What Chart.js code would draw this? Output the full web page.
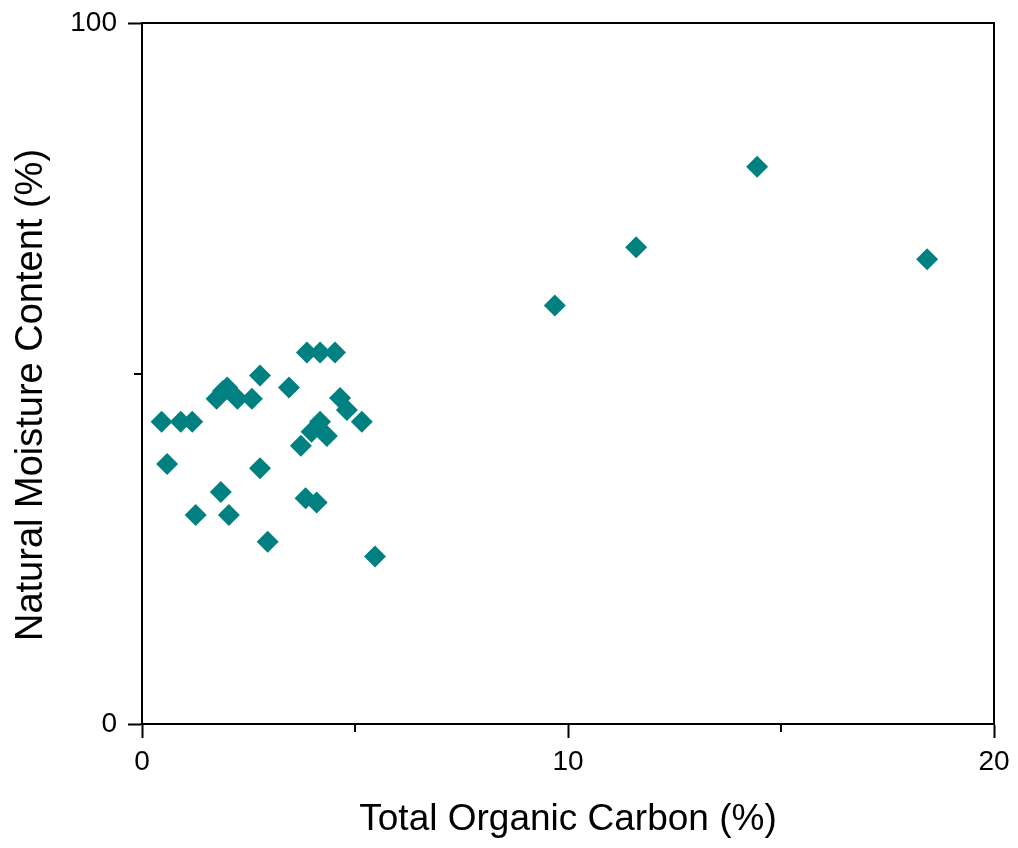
<!DOCTYPE html>
<html>
<head>
<meta charset="utf-8">
<title>TOC vs moisture</title>
<script src="https://cdn.jsdelivr.net/npm/chart.js@4.4.1/dist/chart.umd.min.js"></script>
<style>
    html, body { margin: 0; padding: 0; background: #fff; }
    #wrap { width: 1018px; height: 848px; }
</style>
</head>
<body>
<div id="wrap"><canvas id="chartScatter" width="1018" height="848"></canvas></div>
<script>
// total organic carbon (%) and natural moisture content (%) per sample
var tocValues = [
    0.46, 0.91, 1.18, 0.59, 1.26, 1.75, 1.85, 1.90, 2.00, 2.04,
    2.24, 2.58, 2.77, 2.77, 2.95, 3.45, 3.73, 3.87, 3.84, 3.98,
    4.10, 4.18, 4.18, 4.34, 4.53, 4.65, 4.81, 5.16, 5.47,
    9.69, 11.60, 14.44, 18.43
];
var moistureValues = [
    43.1, 43.1, 43.1, 37.1, 29.8, 46.4, 33.1, 47.5, 48.0, 29.8,
    46.4, 46.4, 49.7, 36.5, 26.0, 48.0, 39.7, 53.0, 32.2, 41.7,
    31.6, 53.0, 43.1, 41.1, 53.0, 46.5, 44.8, 43.1, 23.9,
    59.7, 68.0, 79.5, 66.3
];

var xTickLabels = [0, 10, 20];
var yTickLabels = [0, 100];
var xMinorTicks = [5, 15];
var yMinorTicks = [50];

var fontFamily = "'Liberation Sans', Arial, sans-serif";

var points = [];
for (let i = 0; i < tocValues.length; i++) {
    points.push({ x: tocValues[i], y: moistureValues[i] });
}

// box on top/right, short minor ticks, rotated y title
var frameExtras = {
    id: "frameExtras",
    afterDraw: function(chart) {
        var ctx = chart.ctx;
        var area = chart.chartArea;
        var xs = chart.scales.x;
        var ys = chart.scales.y;
        ctx.save();
        ctx.strokeStyle = "#000";
        ctx.lineWidth = 2;
        ctx.beginPath();
        ctx.moveTo(area.left, area.top);
        ctx.lineTo(area.right, area.top);
        ctx.lineTo(area.right, area.bottom);
        for (let i = 0; i < xMinorTicks.length; i++) {
            var px = Math.round(xs.getPixelForValue(xMinorTicks[i]));
            ctx.moveTo(px, area.bottom);
            ctx.lineTo(px, area.bottom + 8);
        }
        for (let i = 0; i < yMinorTicks.length; i++) {
            var py = Math.round(ys.getPixelForValue(yMinorTicks[i]));
            ctx.moveTo(area.left, py);
            ctx.lineTo(area.left - 8, py);
        }
        ctx.stroke();

        ctx.translate(42, 395);
        ctx.rotate(-Math.PI / 2);
        ctx.fillStyle = "#000";
        ctx.font = "38px " + fontFamily;
        ctx.textAlign = "center";
        ctx.textBaseline = "alphabetic";
        ctx.fillText("Natural Moisture Content (%)", 0, 0);
        ctx.restore();
    },
};

var ctx = document.getElementById("chartScatter");
var chart = new Chart(ctx, {
    type: "scatter",
    data: {
        datasets: [{
            data: points,
            pointStyle: "rectRot",
            pointRadius: 11,
            pointBorderWidth: 0,
            backgroundColor: "#008080",
            borderColor: "#008080",
        }, ],
    },
    options: {
        responsive: false,
        animation: false,
        events: [],
        devicePixelRatio: 1,
        layout: {
            padding: { top: 23, right: 24, left: 0, bottom: 0 },
        },
        plugins: {
            legend: { display: false },
            tooltip: { enabled: false },
        },
        scales: {
            x: {
                type: "linear",
                min: 0,
                max: 20,
                afterBuildTicks: function(scale) {
                    scale.ticks = xTickLabels.map(function(v) { return { value: v }; });
                },
                afterFit: function(scale) {
                    scale.height = 124;
                    scale.paddingLeft = 0;
                    scale.paddingRight = 0;
                },
                grid: {
                    drawOnChartArea: false,
                    tickLength: 14,
                    tickWidth: 2,
                    tickColor: "#000",
                },
                border: { color: "#000", width: 2 },
                ticks: {
                    color: "#000",
                    padding: 7,
                    maxRotation: 0,
                    font: { family: fontFamily, size: 28 },
                },
                title: {
                    display: true,
                    text: "Total Organic Carbon (%)",
                    color: "#000",
                    padding: { top: 0, bottom: 6 },
                    font: { family: fontFamily, size: 37, lineHeight: 1.2 },
                },
            },
            y: {
                type: "linear",
                min: 0,
                max: 100,
                afterBuildTicks: function(scale) {
                    scale.ticks = yTickLabels.map(function(v) { return { value: v }; });
                },
                afterFit: function(scale) {
                    scale.width = 142;
                    scale.paddingTop = 0;
                    scale.paddingBottom = 0;
                },
                grid: {
                    drawOnChartArea: false,
                    tickLength: 14,
                    tickWidth: 2,
                    tickColor: "#000",
                },
                border: { color: "#000", width: 2 },
                ticks: {
                    color: "#000",
                    padding: 11,
                    font: { family: fontFamily, size: 28 },
                },
            },
        },
    },
    plugins: [frameExtras],
});
</script>
</body>
</html>
